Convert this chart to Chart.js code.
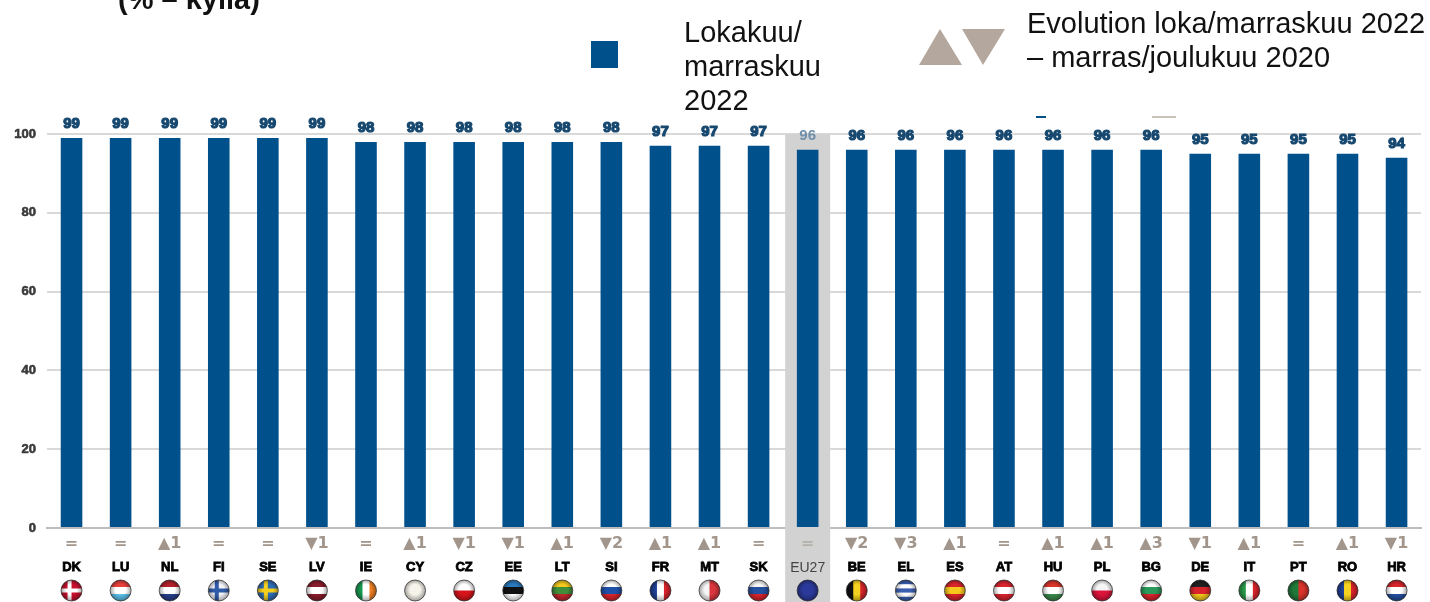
<!DOCTYPE html>
<html>
<head>
<meta charset="utf-8">
<script src="https://cdn.jsdelivr.net/npm/chart.js@4"></script>
<style>
html,body{margin:0;padding:0;background:#fff;overflow:hidden}
#wrap{position:relative;width:1430px;height:602px;font-family:"Liberation Sans",Arial,sans-serif;color:#111}
#wrap canvas{position:absolute;left:0;top:0}
.t{position:absolute;white-space:nowrap}
#title{left:118px;top:-18px;font-size:29px;font-weight:bold;line-height:34px}
#swatch{position:absolute;left:591px;top:41px;width:27px;height:27px;background:#00508c}
#leg1{left:684px;top:15px;font-size:29px;line-height:34px}
#leg2{left:1027px;top:6px;font-size:29px;line-height:34px}
#tri{position:absolute;left:919px;top:29px}
.bit{position:absolute;height:2px}
</style>
</head>
<body>
<div id="wrap">
<canvas id="c" width="1430" height="602"></canvas>
<div class="t" id="title">(% – kyllä)</div>
<div id="swatch"></div>
<div class="t" id="leg1">Lokakuu/<br>marraskuu<br>2022</div>
<svg id="tri" width="86" height="36"><polygon points="0,36 21,0 43,36" fill="#b3a79e"/><polygon points="43,0 86,0 64,36" fill="#b3a79e"/></svg>
<div class="t" id="leg2">Evolution loka/marraskuu 2022<br>– marras/joulukuu 2020</div>
<div class="bit" style="left:1036px;top:116px;width:10px;background:#00508c"></div>
<div class="bit" style="left:1152px;top:116px;width:24px;background:#c9c2bb"></div>
</div>
<script>
const categories = ["DK","LU","NL","FI","SE","LV","IE","CY","CZ","EE","LT","SI","FR","MT","SK","EU27","BE","EL","ES","AT","HU","PL","BG","DE","IT","PT","RO","HR"];
const values = [99,99,99,99,99,99,98,98,98,98,98,98,97,97,97,96,96,96,96,96,96,96,96,95,95,95,95,94];
const evolution = ["=","=","▲1","=","=","▼1","=","▲1","▼1","▼1","▲1","▼2","▲1","▲1","=","=","▼2","▼3","▲1","=","▲1","▲1","▲3","▼1","▲1","=","▲1","▼1"];
const yTicks = [0,20,40,60,80,100];

/* flags: direction and stripes */
const flagDir = ["x","h","h","x","x","h","v","p","h","h","h","h","v","v","h","p","v","h","h","h","h","h","h","h","v","v","v","h"];
const flagColors = [
  ["#c8102e","#fff"],["#e8413c","#fff","#5cc0ea"],["#b3202c","#fff","#27408b"],["#f2f4fa","#2f5aa8"],
  ["#2f6db5","#f5cf1d"],["#8a1c2c","#fff","#8a1c2c"],["#179a50","#fff","#f08022"],["#f5f3ea"],
  ["#fff","#d7141a"],["#2a7ac0","#111","#fff"],["#f4c81d","#3f8f3a","#c1272d"],["#fff","#1f50a8","#d9242c"],
  ["#1f3f95","#fff","#d9242c"],["#f5f5f5","#d9363e"],["#f5f5f5","#2450a0","#d9242c"],["#2b3a9a"],
  ["#111","#f4d21f","#d9242c"],["#3a5fb0","#fff","#3a5fb0","#fff","#3a5fb0"],["#d9242c","#f4c81d","#d9242c"],
  ["#d9242c","#fff","#d9242c"],["#d9362c","#fff","#3a8a4a"],["#f5f5f5","#dc143c"],["#fff","#2a9a5a","#d9242c"],
  ["#222","#d9242c","#f4c81d"],["#2a9a4a","#fff","#d9242c"],["#1f7a3a","#d9342c"],["#1f3f95","#f4d21f","#d9242c"],
  ["#d9242c","#fff","#2450a0"]
];

const euIndex = categories.indexOf("EU27");

const euBand = {
  id:"euBand",
  beforeDatasetsDraw(chart){
    const {ctx,scales:{x,y}}=chart;
    const cx=x.getPixelForValue(euIndex);
    ctx.save();
    ctx.fillStyle="#d2d2d2";
    ctx.fillRect(cx-22.5,y.getPixelForValue(100),45,602-y.getPixelForValue(100));
    ctx.restore();
  }
};

function drawFlag(ctx,cx,cy,r,dir,cols){
  ctx.save();
  ctx.beginPath();
  ctx.arc(cx,cy,r,0,Math.PI*2);
  ctx.clip();
  const s=r*2;
  if(dir==="h"){
    cols.forEach((c,i)=>{ctx.fillStyle=c;ctx.fillRect(cx-r,cy-r+i*s/cols.length,s,s/cols.length+1);});
  }else if(dir==="v"){
    cols.forEach((c,i)=>{ctx.fillStyle=c;ctx.fillRect(cx-r+i*s/cols.length,cy-r,s/cols.length+1,s);});
  }else if(dir==="x"){
    ctx.fillStyle=cols[0];ctx.fillRect(cx-r,cy-r,s,s);
    ctx.fillStyle=cols[1];
    ctx.fillRect(cx-r,cy-2,s,4);
    ctx.fillRect(cx-4,cy-r,4,s);
  }else{
    ctx.fillStyle=cols[0];ctx.fillRect(cx-r,cy-r,s,s);
  }
  /* gloss */
  const g=ctx.createRadialGradient(cx,cy-1,r*0.5,cx,cy,r);
  g.addColorStop(0,"rgba(0,0,0,0)");
  g.addColorStop(1,"rgba(0,0,0,0.35)");
  ctx.fillStyle=g;ctx.fillRect(cx-r,cy-r,s,s);
  ctx.restore();
  ctx.beginPath();
  ctx.arc(cx,cy,r,0,Math.PI*2);
  ctx.strokeStyle="rgba(40,40,40,0.75)";
  ctx.lineWidth=1;
  ctx.stroke();
}

const annotations = {
  id:"annotations",
  afterDatasetsDraw(chart){
    const {ctx,scales:{x,y}}=chart;
    ctx.save();
    ctx.textAlign="center";
    ctx.textBaseline="middle";
    ctx.filter="blur(0.5px)";
    categories.forEach((c,i)=>{
      const cx=x.getPixelForValue(i);
      /* value labels */
      ctx.font="bold 15px 'Liberation Sans'";
      ctx.fillStyle=i===euIndex?"#6f8fab":"#17486f";
      ctx.strokeStyle="#17486f";
      ctx.lineWidth=1.2;
      const ty=y.getPixelForValue(values[i])-14;
      if(i!==euIndex)ctx.strokeText(values[i],cx,ty);
      ctx.fillText(values[i],cx,ty);
      /* evolution labels */
      ctx.font="bold 16px 'DejaVu Sans'";
      ctx.fillStyle=i===euIndex?"#b5b0aa":"#a2968c";
      ctx.fillText(evolution[i],cx,543.5);
    });
    ctx.filter="none";
    categories.forEach((c,i)=>{
      drawFlag(ctx,x.getPixelForValue(i),590.5,10.5,flagDir[i],flagColors[i]);
    });
    ctx.restore();
  }
};

new Chart(document.getElementById("c"),{
  type:"bar",
  data:{
    labels:categories,
    datasets:[{
      data:values,
      backgroundColor:"#00508c",
      barPercentage:0.44,
      categoryPercentage:1
    }]
  },
  options:{
    responsive:false,
    animation:false,
    layout:{padding:{top:134,right:3,left:0,bottom:0}},
    plugins:{legend:{display:false},tooltip:{enabled:false}},
    scales:{
      x:{
        afterFit(s){s.height=74;},
        grid:{display:false},
        border:{color:"#bdbdbd",width:2},
        ticks:{
          z:1,
          autoSkip:false,
          maxRotation:0,
          padding:24,
          color:ctx=>ctx.index===euIndex?"#444":"#000",
          textStrokeColor:"#000",
          textStrokeWidth:ctx=>ctx.index===euIndex?0:0.8,
          font:ctx=>({family:"Liberation Sans",size:ctx.index===euIndex?14:13,weight:ctx.index===euIndex?"normal":"bold"})
        }
      },
      y:{
        min:0,max:100,
        afterFit(s){s.width=47;},
        afterBuildTicks(s){s.ticks=yTicks.map(v=>({value:v}));},
        grid:{color:"#d9d9d9",lineWidth:2,drawTicks:false},
        border:{display:false},
        ticks:{
          padding:11,
          color:"#3a3a3a",
          textStrokeColor:"#3a3a3a",
          textStrokeWidth:0.6,
          font:{family:"Liberation Sans",size:13,weight:"bold"}
        }
      }
    }
  },
  plugins:[euBand,annotations]
});
</script>
</body>
</html>
